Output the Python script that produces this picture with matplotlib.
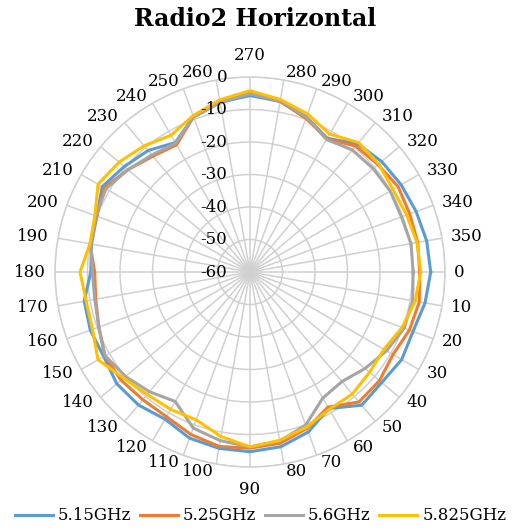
import numpy as np
import matplotlib
matplotlib.use("Agg")
import matplotlib.pyplot as plt

plt.rcParams['font.family'] = 'DejaVu Serif'

# angle (deg) categories, 0..350
angles = list(range(0, 360, 10))

# gain in dB, same order as angles
ghz_515 = [-4.4, -5.3, -6.6, -6.1, -7.1, -6.5, -11.5, -7.6, -5.4, -4.7,
           -4.9, -5.6, -7.7, -6.6, -6.5, -8.0, -7.7, -8.2, -11.0, -10.5,
           -9.8, -7.5, -9.5, -11.2, -14.0, -9.2, -7.0, -5.7, -6.7, -9.2,
           -12.5, -8.5, -7.1, -6.3, -5.6, -4.8]
ghz_525 = [-7.8, -7.1, -7.8, -9.2, -8.0, -7.8, -12.0, -8.8, -6.5, -5.8,
           -5.5, -6.8, -8.6, -8.7, -8.2, -8.4, -10.5, -11.8, -12.2, -10.0,
           -9.8, -8.2, -11.0, -13.5, -14.8, -9.2, -7.0, -4.9, -6.7, -9.7,
           -12.7, -9.4, -8.6, -7.4, -7.7, -7.6]
ghz_56 = [-9.8, -9.2, -9.5, -11.5, -13.8, -16.0, -15.2, -9.9, -7.2, -6.2,
          -7.3, -8.9, -14.0, -11.9, -10.0, -8.5, -10.5, -11.5, -11.5, -10.3,
          -9.5, -8.8, -11.0, -13.0, -14.2, -9.2, -7.0, -5.2, -6.5, -9.3,
          -12.9, -11.0, -10.5, -10.2, -10.4, -9.7]
ghz_5825 = [-7.5, -8.4, -10.2, -12.4, -12.0, -11.0, -11.2, -9.2, -7.4, -6.2,
            -8.6, -11.6, -11.2, -10.8, -9.2, -6.0, -8.4, -8.8, -7.7, -10.0,
            -9.2, -6.0, -7.4, -9.3, -11.4, -8.8, -6.2, -4.2, -6.1, -8.2,
            -11.0, -8.0, -8.3, -9.2, -8.7, -7.8]

series_names = ['5.15GHz', '5.25GHz', '5.6GHz', '5.825GHz']
series_vals = [ghz_515, ghz_525, ghz_56, ghz_5825]
colors = ['#5B9BD5', '#ED7D31', '#A5A5A5', '#FFC000']
r_ticks = list(range(-60, 1, 10))

fig = plt.figure(figsize=(5.16, 5.29), dpi=100)
ax = fig.add_axes([0.1066, 0.1172, 0.7558, 0.7372], projection='polar')
ax.set_theta_zero_location('E')
ax.set_theta_direction(-1)
ax.set_ylim(-60, 0)
ax.set_xticks(np.radians(angles))
ax.set_xticklabels([])
ax.set_yticks(r_ticks)
ax.set_yticklabels([])
ax.grid(color='#D0D0D0', lw=1.1)
ax.spines['polar'].set_color('#D0D0D0')
ax.spines['polar'].set_linewidth(1.1)
ax.tick_params(length=0)

th = np.radians(angles + [angles[0]])
handles = []
for name, vals, c in zip(series_names, series_vals, colors):
    h, = ax.plot(th, vals + [vals[0]], color=c, lw=2.2, label=name)
    handles.append(h)

# category labels round the outside
px = 0.72
for a in angles:
    cs, sn = np.cos(np.radians(a)), np.sin(np.radians(a))
    if a in (90, 270):
        ha, dx, dy = 'center', 0, -22 * sn
    else:
        ha = 'left' if cs > 0 else 'right'
        dx = np.sign(cs) * (1 + 8 * abs(cs))
        dy = -8 * sn
    ax.annotate(str(a), xy=(np.radians(a), 0), xytext=(dx * px, dy * px),
                textcoords='offset points', ha=ha, va='center',
                fontsize=12, annotation_clip=False)

# value labels along the top spoke
for v in r_ticks:
    ax.annotate(str(v), xy=(np.radians(270), v), xytext=(-23 * px, 0),
                textcoords='offset points', ha='right', va='center',
                fontsize=12, annotation_clip=False)

fig.text(0.494, 1 - 19 / 529, 'Radio2 Horizontal', ha='center', va='center',
         fontsize=17, fontweight='bold')

fig.legend(handles, series_names, loc='center', bbox_to_anchor=(0.505, 13 / 529),
           ncol=4, frameon=False, fontsize=12, handlelength=2.3,
           handletextpad=0.3, columnspacing=0.5)

fig.savefig('out.png', dpi=100)
